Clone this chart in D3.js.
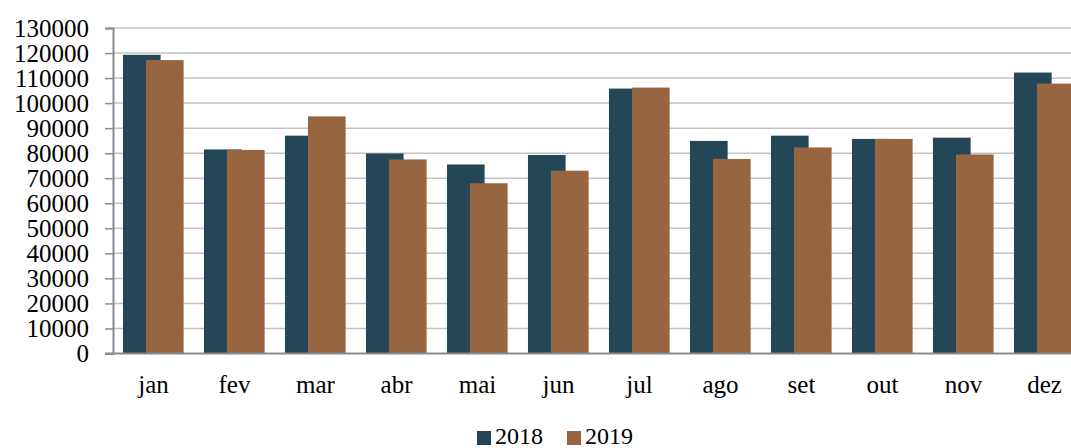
<!DOCTYPE html>
<html>
<head>
<meta charset="utf-8">
<script src="https://cdn.jsdelivr.net/npm/d3@7/dist/d3.min.js"></script>
<style>
  html, body { margin: 0; padding: 0; background: #fff; }
  svg { display: block; }
</style>
</head>
<body>
<svg id="chart" width="1071" height="448"></svg>
<script>
// Monthly totals, 2018 vs 2019
const months = ["jan", "fev", "mar", "abr", "mai", "jun", "jul", "ago", "set", "out", "nov", "dez"];
const values2018 = [119300, 81500, 87000, 79900, 75500, 79300, 105800, 84900, 87000, 85700, 86200, 112200];
const values2019 = [117200, 81300, 94700, 77500, 68000, 73000, 106200, 77700, 82300, 85700, 79500, 107800];
const seriesNames = ["2018", "2019"];
const seriesColors = ["#234756", "#976640"];
const yTicks = [0, 10000, 20000, 30000, 40000, 50000, 60000, 70000, 80000, 90000, 100000, 110000, 120000, 130000];

const FONT = "'Liberation Serif', 'Times New Roman', serif";
const svg = d3.select("#chart");
const plotLeft = 113, plotRight = 1085, plotTop = 28, plotBottom = 353.5;

const x = d3.scaleBand().domain(months).range([plotLeft, plotRight]).paddingInner(0).paddingOuter(0);
const y = d3.scaleLinear().domain([0, 130000]).range([plotBottom, plotTop]);

// horizontal gridlines
svg.append("g")
  .selectAll("line")
  .data(yTicks.filter(d => d > 0))
  .join("line")
  .attr("x1", plotLeft).attr("x2", 1071)
  .attr("y1", d => y(d)).attr("y2", d => y(d))
  .attr("stroke", "#c3c3c3")
  .attr("stroke-width", 1.5);

// bars: 2019 overlaps the right part of 2018
const step = x.step();
const barW = step * 0.465;
const offsets = [step * 0.123, step * 0.407];
const series = [values2018, values2019];
series.forEach((vals, si) => {
  svg.append("g")
    .selectAll("rect")
    .data(months.map((m, i) => ({ m, v: vals[i] })))
    .join("rect")
    .attr("x", d => x(d.m) + offsets[si])
    .attr("width", barW)
    .attr("y", d => y(d.v))
    .attr("height", d => y(0) - y(d.v))
    .attr("fill", seriesColors[si]);
});

// y axis
const yAxis = d3.axisLeft(y).tickValues(yTicks).tickSize(8).tickPadding(16).tickFormat(d3.format("d"));
const gy = svg.append("g").attr("transform", `translate(${plotLeft},0)`).call(yAxis)
  .attr("font-family", FONT).attr("font-size", 25);
gy.select(".domain").attr("stroke", "#8a8a8a").attr("stroke-width", 2);
gy.selectAll(".tick line").attr("stroke", "#8a8a8a").attr("stroke-width", 1.5);
gy.selectAll(".tick text").attr("fill", "#000");

// x axis baseline
svg.append("line")
  .attr("x1", plotLeft - 8).attr("x2", 1071)
  .attr("y1", y(0)).attr("y2", y(0))
  .attr("stroke", "#8a8a8a").attr("stroke-width", 2);

// category labels
svg.append("g")
  .attr("font-family", FONT).attr("font-size", 25)
  .selectAll("text")
  .data(months)
  .join("text")
  .attr("x", d => x(d) + x.bandwidth() / 2)
  .attr("y", 393)
  .attr("text-anchor", "middle")
  .text(d => d);

// legend
const legend = svg.append("g").attr("font-family", FONT).attr("font-size", 24);
const legendX = [477, 567];
seriesNames.forEach((name, i) => {
  legend.append("rect")
    .attr("x", legendX[i]).attr("y", 431)
    .attr("width", 14).attr("height", 14)
    .attr("fill", seriesColors[i]);
  legend.append("text")
    .attr("x", legendX[i] + 18).attr("y", 444)
    .text(name);
});
</script>
</body>
</html>
